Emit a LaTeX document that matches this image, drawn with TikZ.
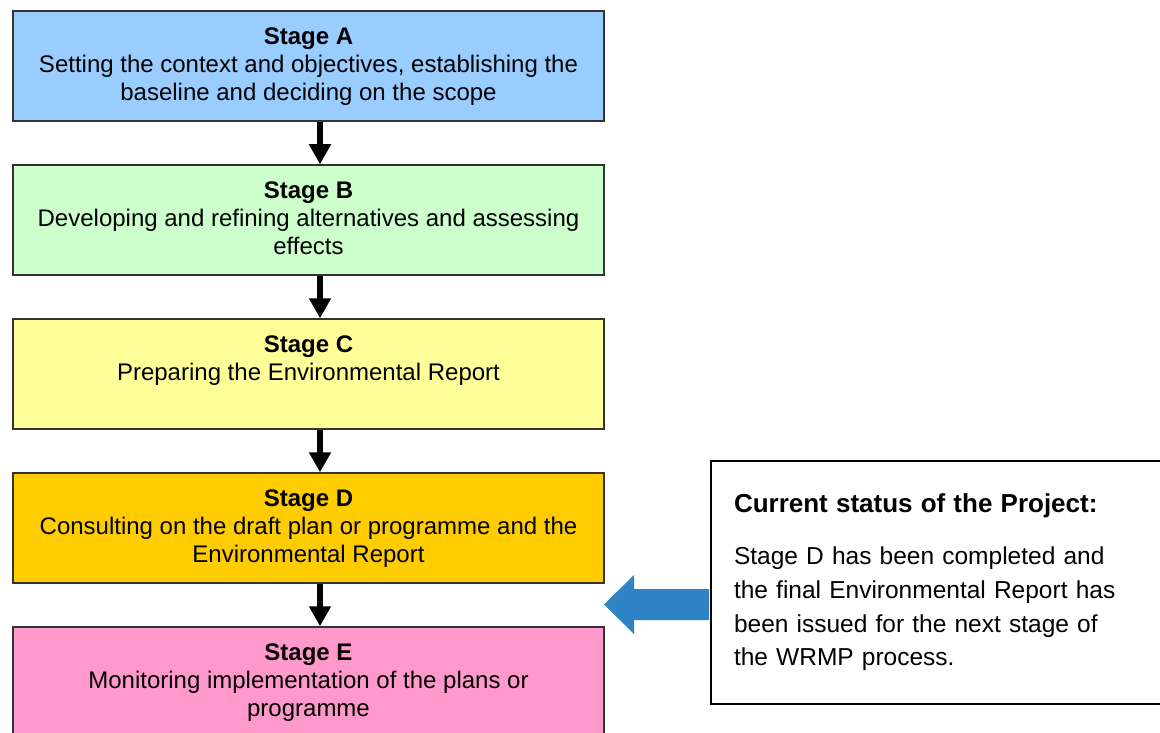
\documentclass[tikz,border=0pt]{standalone}
\usepackage{fontspec}
\setmainfont{Liberation Sans}
\setsansfont{Liberation Sans}
\usetikzlibrary{arrows.meta, positioning}

\definecolor{stageAfill}{RGB}{153,204,255}
\definecolor{stageBfill}{RGB}{204,255,204}
\definecolor{stageCfill}{RGB}{255,255,153}
\definecolor{stageDfill}{RGB}{255,204,0}
\definecolor{stageEfill}{RGB}{255,153,204}
\definecolor{arrowblue}{RGB}{46,132,196}

% texto de cada etapa, pegado arriba
\newcommand{\stagetext}[2]{\parbox[c][76pt][t]{580pt}{\centering\fontsize{24pt}{28pt}\selectfont\textbf{#1}\\#2}}

\begin{document}
\begin{tikzpicture}[
    x=1pt, y=1pt,
    >=Stealth,
    font=\sffamily,
    node distance=42.5pt,
    stage box/.style={draw=black!80, line width=1.5pt, minimum width=591pt, minimum height=110pt, inner sep=0pt},
    stage arrow/.style={draw=black, line width=6.5pt, -{Triangle[width=21pt, length=20pt]}},
    status box/.style={draw=black, line width=2pt, minimum height=243pt, text width=414pt, inner xsep=23pt, align=left, font=\fontsize{24.5pt}{33.7pt}\selectfont},
    status arrow/.style={fill=arrowblue}
]

\useasboundingbox (0,0) rectangle (1160,-733);

% ---- Etapas (columna izquierda) ----
\node[stage box, fill=stageAfill] (stageA) at (308.5,-66) {\stagetext{Stage A}{Setting the context and objectives, establishing the\\baseline and deciding on the scope}};
\node[stage box, fill=stageBfill, below=of stageA] (stageB) {\stagetext{Stage B}{Developing and refining alternatives and assessing\\effects}};
\node[stage box, fill=stageCfill, below=of stageB] (stageC) {\stagetext{Stage C}{Preparing the Environmental Report}};
\node[stage box, fill=stageDfill, below=of stageC] (stageD) {\stagetext{Stage D}{Consulting on the draft plan or programme and the\\Environmental Report}};
\node[stage box, fill=stageEfill, below=of stageD] (stageE) {\stagetext{Stage E}{Monitoring implementation of the plans or\\programme}};

% ---- Flechas entre etapas (algo a la derecha del centro) ----
\draw[stage arrow] ([xshift=11.5pt]stageA.south) -- ([xshift=11.5pt]stageB.north);
\draw[stage arrow] ([xshift=11.5pt]stageB.south) -- ([xshift=11.5pt]stageC.north);
\draw[stage arrow] ([xshift=11.5pt]stageC.south) -- ([xshift=11.5pt]stageD.north);
\draw[stage arrow] ([xshift=11.5pt]stageD.south) -- ([xshift=11.5pt]stageE.north);

% ---- Cuadro de estado (derecha) ----
\node[status box, anchor=north west] (status) at (710,-460) {{\fontsize{26pt}{30pt}\selectfont\textbf{Current status of the Project:}}\\[18pt]Stage D has been completed and\\the final Environmental Report has\\been issued for the next stage of\\the WRMP process.};

% ---- Flecha azul hacia las etapas ----
\coordinate (arrow tail) at ([xshift=-1pt, yshift=-22pt]status.west);
\fill[status arrow] ([yshift=15.5pt]arrow tail) -- ++(-75,0) -- ++(0,14) -- ++(-30,-29.5) -- ++(30,-29.5) -- ++(0,14) -- ++(75,0) -- cycle;

\end{tikzpicture}
\end{document}
